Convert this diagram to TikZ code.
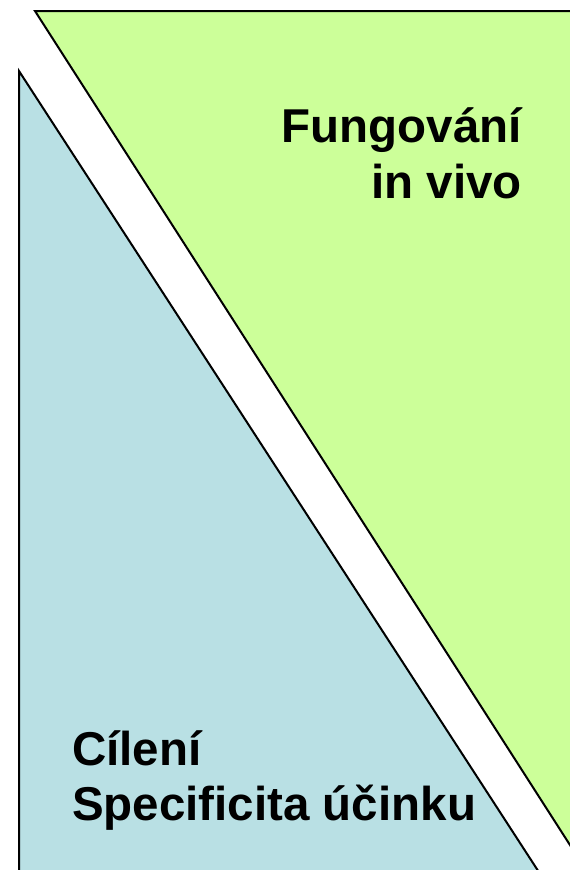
\documentclass[tikz,border=0pt]{standalone}
\usepackage{fontspec}
\setmainfont{Liberation Sans}
\definecolor{greenfill}{RGB}{204,255,153}
\definecolor{bluefill}{RGB}{185,224,228}
\begin{document}
\begin{tikzpicture}[x=1pt,y=-1pt,
  edge/.style={draw=black,line width=2pt,line join=miter},
  label/.style={inner sep=0pt,font=\fontsize{47.5}{55}\selectfont\bfseries}]
\useasboundingbox (0,0) rectangle (570,870);
\clip (0,0) rectangle (570,870);
% green triangle
\coordinate (g1) at (35,11);
\coordinate (g2) at (620,11);
\coordinate (g3) at (620,923);
\fill[greenfill] (g1) -- (g2) -- (g3) -- cycle;
\draw[edge] (g2) -- (g1) -- (g3);
% blue triangle
\coordinate (b1) at (19,71);
\coordinate (b2) at (19,920);
\coordinate (b3) at (570,920);
\fill[bluefill] (b1) -- (b2) -- (b3) -- cycle;
\draw[edge] (b2) -- (b1) -- (b3);
% labels
\node[label,anchor=base east] (f1) at (522,142) {Fungování};
\node[label,anchor=base east] (f2) at (522,198) {in vivo};
\node[label,anchor=base west] (c1) at (72,765) {Cílení};
\node[label,anchor=base west] (c2) at (72,820) {Specificita účinku};
\end{tikzpicture}
\end{document}
